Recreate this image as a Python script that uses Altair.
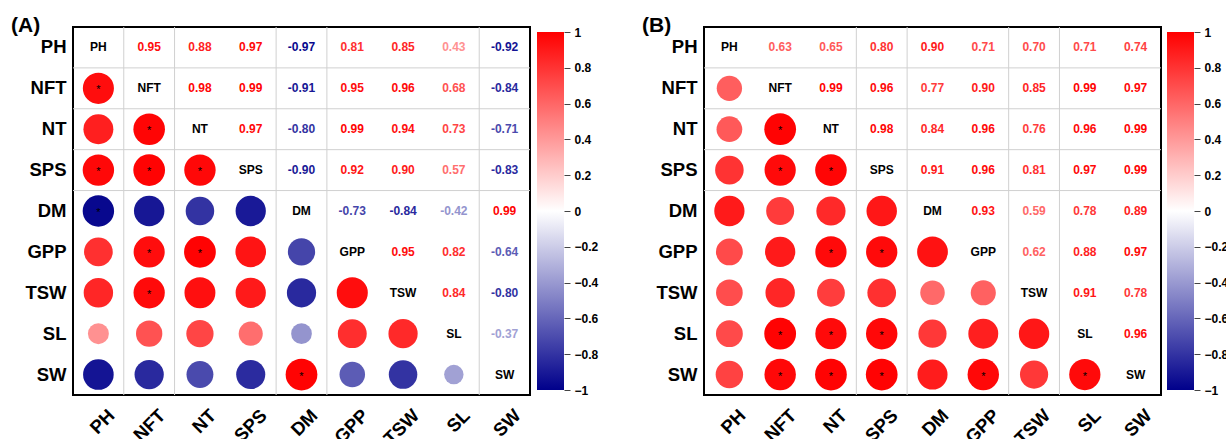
import altair as alt
import pandas as pd

LABELS = ["PH", "NFT", "NT", "SPS", "DM", "GPP", "TSW", "SL", "SW"]

# upper-triangle correlation values (row i, columns i+1..8)
A_UPPER = [
    [0.95, 0.88, 0.97, -0.97, 0.81, 0.85, 0.43, -0.92],
    [0.98, 0.99, -0.91, 0.95, 0.96, 0.68, -0.84],
    [0.97, -0.80, 0.99, 0.94, 0.73, -0.71],
    [-0.90, 0.92, 0.90, 0.57, -0.83],
    [-0.73, -0.84, -0.42, 0.99],
    [0.95, 0.82, -0.64],
    [0.84, -0.80],
    [-0.37],
]
B_UPPER = [
    [0.63, 0.65, 0.80, 0.90, 0.71, 0.70, 0.71, 0.74],
    [0.99, 0.96, 0.77, 0.90, 0.85, 0.99, 0.97],
    [0.98, 0.84, 0.96, 0.76, 0.96, 0.99],
    [0.91, 0.96, 0.81, 0.97, 0.99],
    [0.93, 0.59, 0.78, 0.89],
    [0.62, 0.88, 0.97],
    [0.91, 0.78],
    [0.96],
]
# significance stars (row, column) in the lower triangle
A_STARS = [("NFT", "PH"), ("NT", "NFT"), ("SPS", "PH"), ("SPS", "NFT"), ("SPS", "NT"),
           ("DM", "PH"), ("GPP", "NFT"), ("GPP", "NT"), ("TSW", "NFT"), ("SW", "DM")]
B_STARS = [("NT", "NFT"), ("SPS", "NFT"), ("SPS", "NT"), ("GPP", "NT"), ("GPP", "SPS"),
           ("SL", "NFT"), ("SL", "NT"), ("SL", "SPS"), ("SW", "NFT"), ("SW", "NT"),
           ("SW", "SPS"), ("SW", "GPP"), ("SW", "SL")]
# faint cell separators visible in the picture
A_VGRID = ["NFT", "NT", "DM", "GPP", "SW"]
B_VGRID = ["SPS", "DM", "TSW", "SL"]
HGRID = ["NFT", "NT", "SPS", "DM"]
CB_TICKS = [-1, -0.8, -0.6, -0.4, -0.2, 0, 0.2, 0.4, 0.6, 0.8, 1]

FONT = "Liberation Sans"
W, H = 457, 368

color_scale = alt.Scale(domain=[-1, 0, 1], range=["#00008B", "#FFFFFF", "#FF0000"], interpolate="rgb")
xs = alt.Scale(type="band", domain=LABELS, paddingInner=0, paddingOuter=0)
ys = alt.Scale(type="band", domain=LABELS, paddingInner=0, paddingOuter=0)
xax = alt.Axis(labelAngle=-45, labelAlign="right", labelBaseline="middle", labelOffset=13,
               labelPadding=17, ticks=False, domain=False, labelFontSize=18.5,
               labelFontWeight="bold", labelColor="black", title=None, grid=False)
yax = alt.Axis(labelPadding=7, ticks=False, domain=False, labelFontSize=18.5,
               labelFontWeight="bold", labelColor="black", title=None, grid=False)


def build(upper):
    rows = []
    for i, ri in enumerate(LABELS):
        for j, cj in enumerate(LABELS):
            if i == j:
                kind, r = "diag", 0.0
            elif j > i:
                kind, r = "upper", upper[i][j - i - 1]
            else:
                kind, r = "lower", upper[j][i - j - 1]
            rows.append({"row": ri, "col": cj, "r": r, "absr": abs(r), "kind": kind,
                         "txt": ri if kind == "diag" else f"{r:.2f}"})
    return pd.DataFrame(rows)


def panel(upper, stars, vgrid, tag):
    df = build(upper)
    X = alt.X("col:N", scale=xs, axis=xax)
    Y = alt.Y("row:N", scale=ys, axis=yax)

    vg = alt.Chart(pd.DataFrame({"col": vgrid})).mark_rule(color="#d0d0d0", strokeWidth=1).encode(
        x=alt.X("col:N", scale=xs, axis=xax, bandPosition=0))
    hg = alt.Chart(pd.DataFrame({"row": HGRID})).mark_rule(color="#d0d0d0", strokeWidth=1).encode(
        y=alt.Y("row:N", scale=ys, axis=yax, bandPosition=0))
    circ = alt.Chart(df[df.kind == "lower"]).mark_circle(opacity=1).encode(
        x=X, y=Y,
        size=alt.Size("absr:Q", scale=alt.Scale(domain=[0, 1], range=[0, 1018]), legend=None),
        color=alt.Color("r:Q", scale=color_scale, legend=None),
    )
    nums = alt.Chart(df[df.kind == "upper"]).mark_text(fontSize=12, fontWeight="bold").encode(
        x=X, y=Y, text="txt:N",
        color=alt.Color("r:Q", scale=color_scale, legend=None),
    )
    diag = alt.Chart(df[df.kind == "diag"]).mark_text(fontSize=12, fontWeight="bold", color="black").encode(
        x=X, y=Y, text="txt:N",
    )
    sdf = pd.DataFrame(stars, columns=["row", "col"])
    star = alt.Chart(sdf).mark_text(text="*", fontSize=11, color="black", baseline="middle", dy=2).encode(
        x=X, y=Y,
    )
    ttl = alt.Chart(pd.DataFrame({"t": [tag]})).mark_text(
        fontSize=21, fontWeight="bold", align="left", baseline="alphabetic", color="black").encode(
        x=alt.value(-62), y=alt.value(5), text="t:N")
    return alt.layer(vg, hg, circ, nums, diag, star, ttl).properties(width=W, height=H)


def colorbar(gap):
    grad = alt.LinearGradient(
        gradient="linear",
        stops=[alt.GradientStop(color="#00008B", offset=0),
               alt.GradientStop(color="#FFFFFF", offset=0.5),
               alt.GradientStop(color="#FF0000", offset=1)],
        x1=0, x2=0, y1=1, y2=0)
    return alt.Chart(pd.DataFrame({"lo": [-1], "hi": [1]})).mark_rect(color=grad).encode(
        y=alt.Y("lo:Q", scale=alt.Scale(domain=[-1, 1], range=[363, 5], nice=False, zero=False),
                axis=alt.Axis(orient="right", values=CB_TICKS, format="~g", tickSize=6,
                              tickColor="#444444", domain=False, labelFontSize=12,
                              labelFontWeight="bold", labelColor="black", labelPadding=4,
                              title=None, grid=False)),
        y2="hi:Q",
        x=alt.value(gap), x2=alt.value(gap + 27),
    ).properties(width=gap + 27, height=H, view=alt.ViewBackground(stroke="transparent"))


spacer = alt.Chart(pd.DataFrame({"t": [""]})).mark_text().encode(text="t:N").properties(
    width=140, height=H, view=alt.ViewBackground(stroke="transparent"))

chart = alt.hconcat(
    panel(A_UPPER, A_STARS, A_VGRID, "(A)"), colorbar(7), spacer,
    panel(B_UPPER, B_STARS, B_VGRID, "(B)"), colorbar(6),
    spacing=0, bounds="flush",
).properties(
    autosize=alt.AutoSizeParams(type="none"),
    padding={"left": 73, "top": 27, "right": 1153, "bottom": 412},
    background="white",
).configure(font=FONT).configure_view(stroke="black", strokeWidth=2)

chart.save("out.html", embed_options={"renderer": "svg", "actions": False})
